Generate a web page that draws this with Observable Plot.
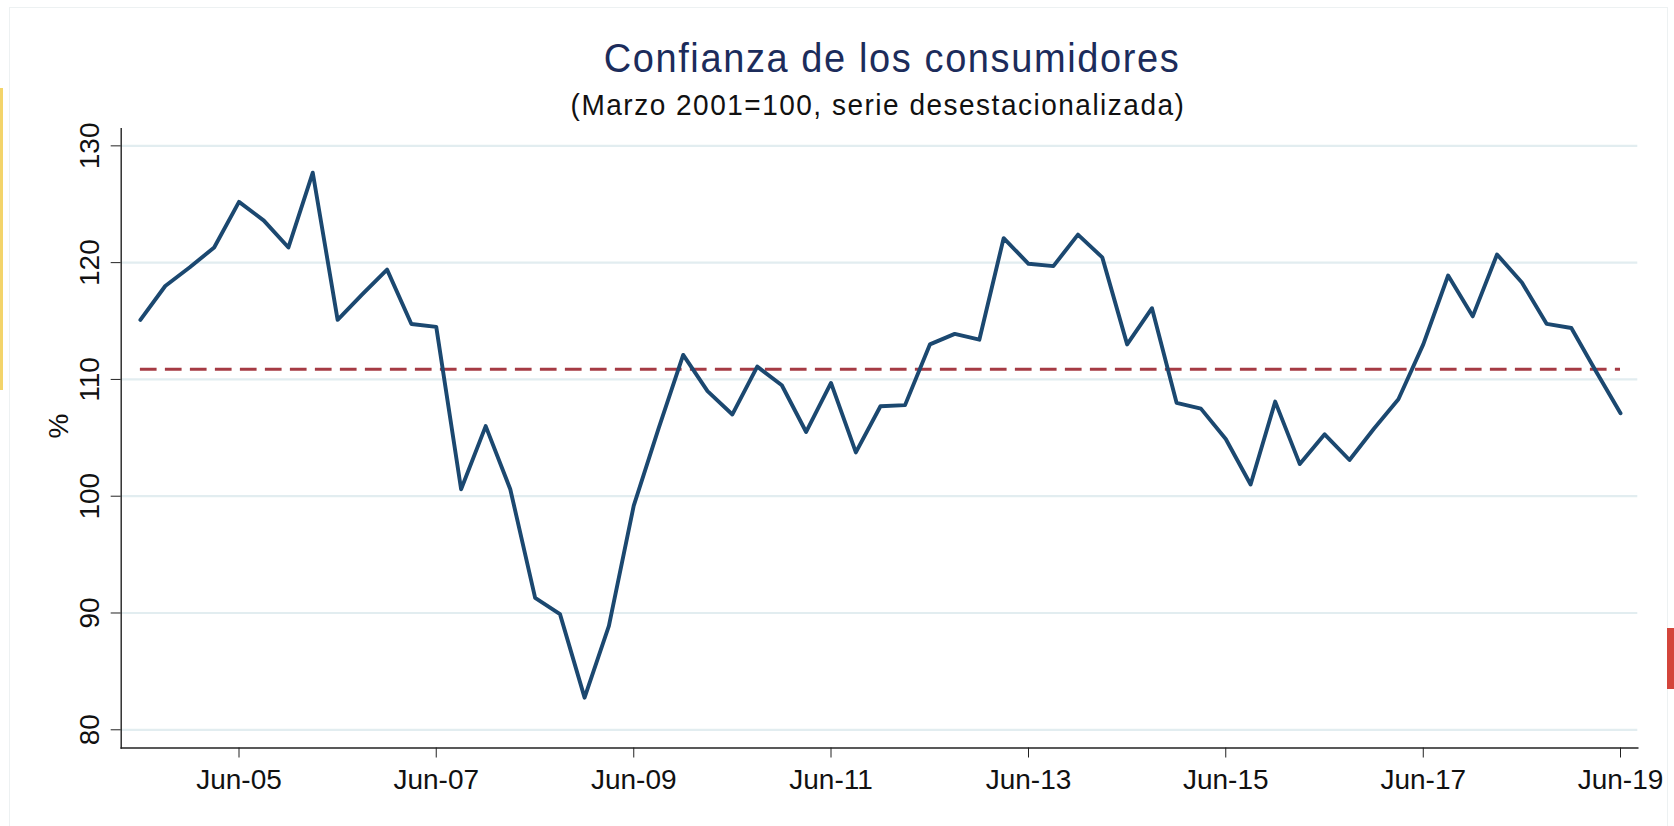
<!DOCTYPE html>
<html>
<head>
<meta charset="utf-8">
<script src="https://cdn.jsdelivr.net/npm/d3@7"></script>
<script src="https://cdn.jsdelivr.net/npm/@observablehq/plot@0.6"></script>
<style>
html,body{margin:0;padding:0;background:#fff;}
#wrap{position:relative;width:1674px;height:826px;overflow:hidden;font-family:"Liberation Sans",Arial,sans-serif;}
#head{position:relative;height:120px;}
.t{position:absolute;white-space:nowrap;transform:translateX(-50%) scaleY(1.08);transform-origin:50% 100%;line-height:1;}
#title{left:892px;top:40px;font-size:38px;letter-spacing:1.6px;color:#1c2c5b;}
#sub{left:878px;top:91.6px;font-size:28px;letter-spacing:1.5px;color:#111;}
#frame{position:absolute;left:9px;top:7px;width:1659px;height:840px;border:1.5px solid #edf1f2;box-sizing:border-box;pointer-events:none;}
#yel{position:absolute;left:0;top:88px;width:3px;height:302px;background:#f3d46a;}
#red{position:absolute;left:1667px;top:628px;width:7px;height:61px;background:#d4453b;}
#chart svg{display:block;}
</style>
</head>
<body>
<div id="wrap">
  <div id="frame"></div><div id="yel"></div><div id="red"></div>
  <div id="head">
    <div id="title" class="t">Confianza de los consumidores</div>
    <div id="sub" class="t">(Marzo 2001=100, serie desestacionalizada)</div>
  </div>
  <div id="chart"></div>
</div>
<script>
const quarters = [
  "2004-06","2004-09","2004-12",
  "2005-03","2005-06","2005-09","2005-12",
  "2006-03","2006-06","2006-09","2006-12",
  "2007-03","2007-06","2007-09","2007-12",
  "2008-03","2008-06","2008-09","2008-12",
  "2009-03","2009-06","2009-09","2009-12",
  "2010-03","2010-06","2010-09","2010-12",
  "2011-03","2011-06","2011-09","2011-12",
  "2012-03","2012-06","2012-09","2012-12",
  "2013-03","2013-06","2013-09","2013-12",
  "2014-03","2014-06","2014-09","2014-12",
  "2015-03","2015-06","2015-09","2015-12",
  "2016-03","2016-06","2016-09","2016-12",
  "2017-03","2017-06","2017-09","2017-12",
  "2018-03","2018-06","2018-09","2018-12",
  "2019-03","2019-06"
];
const values = [
  115.1, 118.0, 119.6,
  121.3, 125.2, 123.6, 121.3,
  127.7, 115.1, 117.3, 119.4,
  114.75, 114.5, 100.6, 106.0,
  100.6, 91.3, 89.9, 82.75,
  88.9, 99.2, 105.8, 112.1,
  109.0, 107.0, 111.1, 109.5,
  105.5, 109.7, 103.75, 107.7,
  107.8, 113.0, 113.9, 113.4,
  122.1, 119.9, 119.7, 122.4,
  120.45, 113.0, 116.1, 108.0,
  107.5, 104.9, 101.0, 108.1,
  102.75, 105.3, 103.1, 105.8,
  108.3, 113.0, 118.9, 115.4,
  120.7, 118.3, 114.75, 114.4,
  110.75, 107.1
];
const tickLabels = ["Jun-05","Jun-07","Jun-09","Jun-11","Jun-13","Jun-15","Jun-17","Jun-19"];
const yTicks = [80, 90, 100, 110, 120, 130];
const yLabel = "%";

const parseQ = d3.utcParse("%Y-%m");
const parseTick = d3.utcParse("%b-%y");
const data = quarters.map((q, i) => ({date: parseQ(q), value: values[i]}));
const tickDates = tickLabels.map(parseTick);
const promedio = d3.mean(values);
const first = data[0].date;
const last = data[data.length - 1].date;

const chart = Plot.plot({
  width: 1674,
  height: 706,
  marginLeft: 120.7,
  marginRight: 36.7,
  marginTop: 8.3,
  marginBottom: 78.5,
  style: {fontFamily: "'Liberation Sans', Arial, sans-serif", fontSize: "28px", color: "#111", background: "transparent", overflow: "visible"},
  x: {type: "utc", domain: [new Date(Date.UTC(2004, 2, 22)), new Date(Date.UTC(2019, 7, 4))]},
  y: {domain: [78.44, 131.46]},
  marks: [
    Plot.gridY(yTicks, {stroke: "#e2edf0", strokeOpacity: 1, strokeWidth: 2.2}),
    Plot.ruleY([{v: promedio, a: first, b: last}], {y: "v", x1: "a", x2: "b", stroke: "#a53a43", strokeWidth: 3, strokeDasharray: "16.7,8.3"}),
    Plot.lineY(data, {x: "date", y: "value", stroke: "#1b4870", strokeWidth: 3.9}),
    Plot.axisX(tickDates, {tickSize: 10, tickPadding: 11.6, stroke: "#222", fill: "#111",
      tickFormat: d => tickLabels[tickDates.findIndex(t => +t === +d)], label: null}),
    Plot.axisY(yTicks, {tickSize: 10, tickPadding: 12.7, tickRotate: -90, stroke: "#222", fill: "#111", label: null}),
    Plot.frame({anchor: "left", stroke: "#222", strokeWidth: 1.4}),
    Plot.frame({anchor: "bottom", stroke: "#222", strokeWidth: 1.4}),
    Plot.text([yLabel], {text: d => d, frameAnchor: "left", dx: -62, rotate: -90, fill: "#111"})
  ]
});
document.getElementById("chart").appendChild(chart);
</script>
</body>
</html>
